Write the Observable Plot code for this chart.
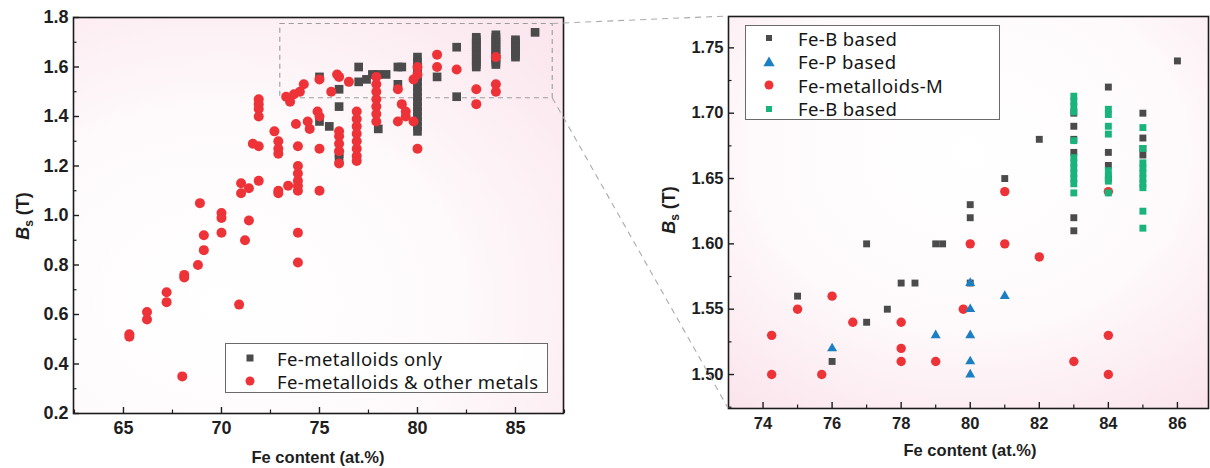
<!DOCTYPE html>
<html>
<head>
<meta charset="utf-8">
<script src="https://cdn.jsdelivr.net/npm/d3@7"></script>
<script src="https://cdn.jsdelivr.net/npm/@observablehq/plot@0.6"></script>
<style>
  body { margin: 0; background: #fff; }
  #wrap { position: relative; width: 1210px; height: 468px; overflow: hidden; }
  #left, #right, #links { position: absolute; top: 0; }
  #left { left: 0; }
  #right { left: 630px; }
  #links { left: 0; pointer-events: none; }
  .legend {
    position: absolute; border: 1px solid #6a6a6a; background: rgba(255,255,255,0.92);
    font-family: "Noto Sans", "Liberation Sans", Arial, sans-serif; font-size: 18.5px; color: #151515;
    letter-spacing: 0.4px; box-sizing: border-box;
  }
  .legend .row { position: absolute; left: 0; display: flex; align-items: center; white-space: nowrap; }
  .legend svg { display: block; }
</style>
</head>
<body>
<div id="wrap">
  <div id="left"></div>
  <div id="right"></div>
</div>
<script>
// ---- Overview panel: saturation flux density vs. Fe content ----
// Fe-metalloids only (grey squares)
const onlyFe = [86, 85, 85, 85, 85, 85, 85, 85, 85,
  84, 84, 84, 84, 84, 84, 84, 84, 84, 84, 84, 84, 84,
  83, 83, 83, 83, 83, 83, 83, 83, 83, 83, 83, 83, 83,
  82, 82, 81,
  80, 80, 80, 80, 80, 80, 80, 80, 80, 80, 80, 80, 80, 80, 80, 80,
  79.2, 79, 79, 78.4, 78, 78, 77.7, 77.4, 77, 77, 76, 76, 76, 76, 75, 75, 75.5];
const onlyBs = [1.74, 1.71, 1.70, 1.69, 1.68, 1.67, 1.66, 1.65, 1.64,
  1.73, 1.72, 1.71, 1.70, 1.69, 1.68, 1.67, 1.66, 1.65, 1.64, 1.63, 1.62, 1.61,
  1.72, 1.71, 1.70, 1.69, 1.68, 1.67, 1.66, 1.65, 1.64, 1.63, 1.62, 1.61, 1.60,
  1.68, 1.48, 1.56,
  1.64, 1.62, 1.60, 1.58, 1.56, 1.54, 1.52, 1.50, 1.48, 1.46, 1.44, 1.42, 1.40, 1.38, 1.36, 1.34,
  1.60, 1.60, 1.53, 1.57, 1.57, 1.35, 1.57, 1.55, 1.60, 1.54, 1.51, 1.44, 1.25, 1.23, 1.56, 1.38, 1.36];

// Fe-metalloids & other metals (red circles)
const otherFe = [65.3, 65.3, 66.2, 66.2, 67.2, 67.2, 68, 68.1, 68.1, 68.8, 69.1, 69.1, 68.9,
  70, 70, 70, 70.9, 71.2, 71.4, 71, 71, 71.4, 71.9, 71.6, 71.9,
  71.9, 71.9, 71.9, 71.9, 72.7, 72.9, 72.9, 72.9, 72.9, 72.9, 73.4,
  73.9, 73.9, 73.9, 73.9, 73.9, 73.9, 73.9, 73.9, 73.8, 73.3, 73.5, 73.7, 74.0, 74.2,
  74.4, 74.5, 74.9, 75, 75, 75, 75, 75.6, 75.9, 76.5,
  76, 76, 76, 76, 76, 76,
  76.9, 76.9, 76.9, 76.9, 76.9, 76.9, 76.9, 76.9,
  77.9, 77.9, 77.9, 77.9, 77.9, 77.9, 77.9,
  79, 79.2, 79.4, 79, 79.8, 79.4,
  80, 80, 79.8, 80, 81, 81, 82, 83, 83, 84, 84, 84];
const otherBs = [0.52, 0.51, 0.61, 0.58, 0.69, 0.65, 0.35, 0.76, 0.75, 0.80, 0.86, 0.92, 1.05,
  0.93, 0.99, 1.01, 0.64, 0.90, 0.98, 1.13, 1.09, 1.11, 1.14, 1.29, 1.28,
  1.47, 1.45, 1.43, 1.40, 1.34, 1.30, 1.27, 1.25, 1.10, 1.09, 1.12,
  1.28, 1.20, 1.17, 1.14, 1.12, 1.10, 0.93, 0.81, 1.37, 1.48, 1.46, 1.49, 1.50, 1.53,
  1.38, 1.35, 1.42, 1.40, 1.27, 1.10, 1.55, 1.50, 1.57, 1.54,
  1.56, 1.34, 1.32, 1.29, 1.26, 1.21,
  1.42, 1.39, 1.36, 1.33, 1.30, 1.27, 1.24, 1.22,
  1.56, 1.53, 1.50, 1.47, 1.44, 1.41, 1.38,
  1.51, 1.45, 1.42, 1.38, 1.38, 1.40,
  1.60, 1.57, 1.55, 1.27, 1.65, 1.60, 1.59, 1.51, 1.45, 1.64, 1.53, 1.50];

// Zoomed window (shared by the dashed box and the detail panel)
const zoomFe = [73, 86.9];
const zoomBs = [1.474, 1.774];

// ---- Detail panel ----
const feBFe = [75, 76, 77, 77, 77.6, 78, 78.4, 79, 79.2, 80, 80, 80, 81, 82,
  83, 83, 83, 83, 83, 83, 84, 84, 84, 84, 85, 85, 85, 85, 86];
const feBBs = [1.56, 1.51, 1.60, 1.54, 1.55, 1.57, 1.57, 1.60, 1.60, 1.63, 1.62, 1.57, 1.65, 1.68,
  1.70, 1.69, 1.68, 1.67, 1.62, 1.61, 1.72, 1.67, 1.66, 1.65, 1.70, 1.681, 1.673, 1.668, 1.74];

const fePFe = [76, 79, 80, 80, 80, 80, 80, 81];
const fePBs = [1.52, 1.53, 1.57, 1.55, 1.53, 1.51, 1.50, 1.56];

const feMFe = [74.25, 74.25, 75, 75.7, 76, 76.6, 78, 78, 78, 79, 79.8, 80, 81, 81, 82, 83, 84, 84, 84];
const feMBs = [1.53, 1.50, 1.55, 1.50, 1.56, 1.54, 1.54, 1.52, 1.51, 1.51, 1.55, 1.60, 1.64, 1.60, 1.59, 1.51, 1.64, 1.53, 1.50];

const feB2Fe = [83, 83, 83, 83, 83, 83, 83, 83, 83, 83, 83, 83,
  84, 84, 84, 84, 84, 84, 84, 84,
  85, 85, 85, 85, 85, 85, 85, 85, 85, 85];
const feB2Bs = [1.713, 1.709, 1.705, 1.701, 1.679, 1.666, 1.662, 1.658, 1.654, 1.650, 1.646, 1.639,
  1.703, 1.699, 1.690, 1.684, 1.656, 1.652, 1.648, 1.639,
  1.689, 1.673, 1.662, 1.658, 1.654, 1.650, 1.646, 1.643, 1.625, 1.612];

// Tick values
const leftXTicks = [65, 70, 75, 80, 85];
const leftXMinor = [62.5, 67.5, 72.5, 77.5, 82.5, 87.5];
const leftYTicks = [0.2, 0.4, 0.6, 0.8, 1.0, 1.2, 1.4, 1.6, 1.8];
const leftYMinor = [0.3, 0.5, 0.7, 0.9, 1.1, 1.3, 1.5, 1.7];
const rightXTicks = [74, 76, 78, 80, 82, 84, 86];
const rightXMinor = [75, 77, 79, 81, 83, 85];
const rightYTicks = [1.50, 1.55, 1.60, 1.65, 1.70, 1.75];
const rightYMinor = [1.475, 1.525, 1.575, 1.625, 1.675, 1.725];

const grey = "#4b4b4b", red = "#ee3338", blue = "#1b7fc4", green = "#19b47c";
const zip = (xs, ys) => xs.map((x, i) => ({x, y: ys[i]}));

const tickFont = {fontFamily: "'Liberation Sans', Arial, sans-serif", fontWeight: "bold", color: "#1e1e1e", background: "transparent", overflow: "visible"};

const leftPlot = Plot.plot({
  width: 585, height: 468,
  marginLeft: 73, marginTop: 17, marginRight: 22, marginBottom: 55,
  x: {domain: [62.45, 87.45]},
  y: {domain: [0.2, 1.8]},
  style: {...tickFont, fontSize: "18px"},
  marks: [
    Plot.frame({fill: "url(#bgLeft)"}),
    Plot.rect([{}], {x1: zoomFe[0], x2: zoomFe[1], y1: zoomBs[0], y2: zoomBs[1],
      fill: "none", stroke: "#9c9c9c", strokeWidth: 1.1, strokeDasharray: "5,4"}),
    Plot.dot(zip(onlyFe, onlyBs), {x: "x", y: "y", symbol: "square", r: 4.9, fill: grey}),
    Plot.dot(zip(otherFe, otherBs), {x: "x", y: "y", r: 5, fill: red}),
    Plot.axisX({ticks: leftXTicks, tickSize: -6, tickPadding: 14, tickFormat: d3.format("d"), label: null, strokeWidth: 1.4}),
    Plot.axisX({ticks: leftXMinor, tickSize: -3.5, text: null, label: null, strokeWidth: 1.2}),
    Plot.axisY({ticks: leftYTicks, tickSize: -6, tickPadding: 11, tickFormat: d3.format(".1f"), label: null, strokeWidth: 1.4}),
    Plot.axisY({ticks: leftYMinor, tickSize: -3.5, text: null, label: null, strokeWidth: 1.2}),
    Plot.frame({stroke: "#1c1c1c", strokeWidth: 1.6})
  ]
});

const rightPlot = Plot.plot({
  width: 580, height: 468,
  marginLeft: 98, marginTop: 16, marginRight: 2, marginBottom: 60,
  x: {domain: zoomFe},
  y: {domain: zoomBs},
  style: {...tickFont, fontSize: "16.5px"},
  marks: [
    Plot.frame({fill: "url(#bgRight)"}),
    Plot.dot(zip(feBFe, feBBs), {x: "x", y: "y", symbol: "square", r: 3.9, fill: grey}),
    Plot.dot(zip(feMFe, feMBs), {x: "x", y: "y", r: 4.7, fill: red}),
    Plot.dot(zip(fePFe, fePBs), {x: "x", y: "y", symbol: "triangle", r: 3.7, fill: blue}),
    Plot.dot(zip(feB2Fe, feB2Bs), {x: "x", y: "y", symbol: "square", r: 3.9, fill: green}),
    Plot.axisX({ticks: rightXTicks, tickSize: -6, tickPadding: 15, tickFormat: d3.format("d"), label: null, strokeWidth: 1.4}),
    Plot.axisX({ticks: rightXMinor, tickSize: -3.5, text: null, label: null, strokeWidth: 1.2}),
    Plot.axisY({ticks: rightYTicks, tickSize: -6, tickPadding: 11, tickFormat: d3.format(".2f"), label: null, strokeWidth: 1.4}),
    Plot.axisY({ticks: rightYMinor, tickSize: -3.5, text: null, label: null, strokeWidth: 1.2}),
    Plot.frame({stroke: "#1c1c1c", strokeWidth: 1.6})
  ]
});

// Soft pink backgrounds of the plotting areas
d3.select(leftPlot).insert("defs", ":first-child").html(`
  <radialGradient id="bgLeft" cx="0.3" cy="0.72" r="0.95">
    <stop offset="0" stop-color="#ffffff"/>
    <stop offset="0.5" stop-color="#fefafb"/>
    <stop offset="1" stop-color="#fbe6ee"/>
  </radialGradient>`);
d3.select(rightPlot).insert("defs", ":first-child").html(`
  <radialGradient id="bgRight" cx="0.5" cy="0.35" r="0.8">
    <stop offset="0" stop-color="#ffffff"/>
    <stop offset="0.55" stop-color="#fefafb"/>
    <stop offset="1" stop-color="#fbe5ed"/>
  </radialGradient>`);

// Axis titles with italic B and subscript s
function addTitles(svg, xTitle, yTitleX, yTitleY) {
  const s = d3.select(svg);
  s.append("text").attr("x", xTitle.x).attr("y", xTitle.y).attr("text-anchor", "middle")
    .attr("font-family", "'Liberation Sans', Arial, sans-serif").attr("font-weight", "bold")
    .attr("font-size", 16.5).attr("fill", "#1e1e1e").text("Fe content (at.%)");
  const t = s.append("text").attr("transform", `translate(${yTitleX},${yTitleY}) rotate(-90)`)
    .attr("text-anchor", "middle").attr("font-family", "'Liberation Sans', Arial, sans-serif")
    .attr("font-weight", "bold").attr("font-size", 18).attr("fill", "#1e1e1e");
  t.append("tspan").attr("font-style", "italic").text("B");
  t.append("tspan").attr("font-size", 12).attr("dy", 4).text("s");
  t.append("tspan").attr("dy", -4).text(" (T)");
}
addTitles(leftPlot, {x: 318, y: 463}, 29, 216);
addTitles(rightPlot, {x: 970 - 630, y: 456}, 675 - 630, 210);

document.getElementById("left").appendChild(leftPlot);
document.getElementById("right").appendChild(rightPlot);

// Legends
function legend(parent, box, rows) {
  const div = document.createElement("div");
  div.className = "legend";
  Object.assign(div.style, {left: box.left + "px", top: box.top + "px", width: box.width + "px", height: box.height + "px"});
  rows.forEach((r, i) => {
    const row = document.createElement("div");
    row.className = "row";
    row.style.top = (box.first + i * box.step - 12) + "px";
    row.style.height = "24px";
    const sw = d3.create("svg").attr("width", box.textLeft).attr("height", 24);
    const cx = box.markX, cy = 12;
    if (r.shape === "square") sw.append("rect").attr("x", cx - r.size / 2).attr("y", cy - r.size / 2).attr("width", r.size).attr("height", r.size).attr("fill", r.color);
    else if (r.shape === "circle") sw.append("circle").attr("cx", cx).attr("cy", cy).attr("r", r.size / 2).attr("fill", r.color);
    else sw.append("path").attr("d", d3.symbol(d3.symbolTriangle, r.size * r.size * 0.55)()).attr("transform", `translate(${cx},${cy + 1})`).attr("fill", r.color);
    row.appendChild(sw.node());
    const span = document.createElement("span");
    span.textContent = r.label;
    row.appendChild(span);
    div.appendChild(row);
  });
  parent.appendChild(div);
}
const wrap = document.getElementById("wrap");
legend(wrap, {left: 225, top: 343, width: 323, height: 50, first: 14, step: 23, markX: 24, textLeft: 51}, [
  {shape: "square", size: 7, color: grey, label: "Fe-metalloids only"},
  {shape: "circle", size: 9, color: red, label: "Fe-metalloids & other metals"}
]);
legend(wrap, {left: 745, top: 25, width: 255, height: 95, first: 12, step: 23.5, markX: 23, textLeft: 52}, [
  {shape: "square", size: 6, color: grey, label: "Fe-B based"},
  {shape: "triangle", size: 10, color: blue, label: "Fe-P based"},
  {shape: "circle", size: 9, color: red, label: "Fe-metalloids-M"},
  {shape: "square", size: 6, color: green, label: "Fe-B based"}
]);

// Dashed guide lines from the zoom box to the detail panel
const lx = leftPlot.scale("x"), ly = leftPlot.scale("y");
const rx = rightPlot.scale("x"), ry = rightPlot.scale("y");
const rightOffset = 630;
const links = d3.select(wrap).append("svg").attr("id", "links").attr("width", 1210).attr("height", 468);
[[zoomBs[1]], [zoomBs[0]]].forEach(([b]) => {
  links.append("line")
    .attr("x1", lx.apply(zoomFe[1])).attr("y1", ly.apply(b))
    .attr("x2", rightOffset + rx.apply(zoomFe[0])).attr("y2", ry.apply(b))
    .attr("stroke", "#ababab").attr("stroke-width", 1.1).attr("stroke-dasharray", "6,5");
});
</script>
</body>
</html>
